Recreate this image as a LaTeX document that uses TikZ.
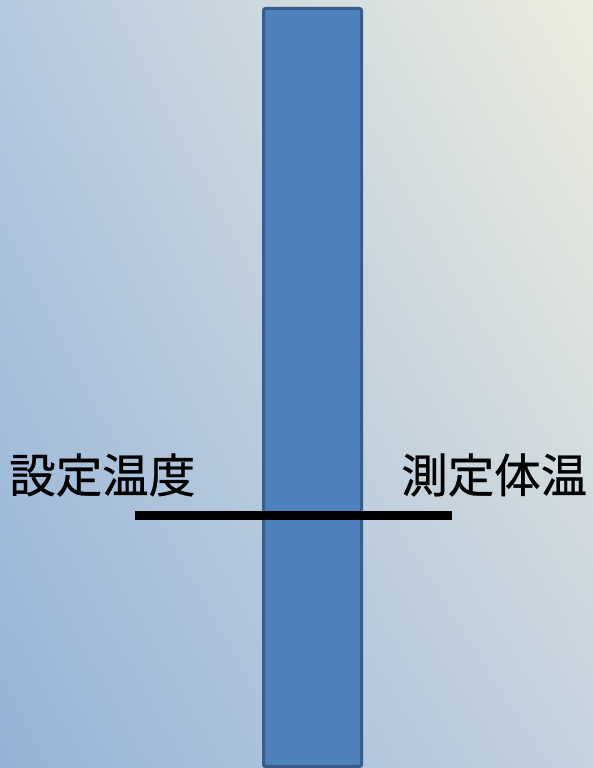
\documentclass[tikz,border=0pt]{standalone}
\usepackage{fontspec}
\usetikzlibrary{shadings}
\newfontfamily\cjk[FakeBold=0.6]{Noto Sans CJK JP}
\definecolor{bgTL}{RGB}{181,201,223}
\definecolor{bgTR}{RGB}{237,237,222}
\definecolor{bgBL}{RGB}{149,179,215}
\definecolor{bgBR}{RGB}{196,210,223}
\definecolor{barfill}{RGB}{79,129,189}
\definecolor{barline}{RGB}{56,93,138}
\tikzset{
  label text/.style={font=\cjk\fontsize{46.5}{56}\selectfont, inner sep=0pt, text=black},
  barbox/.style={fill=barfill, draw=barline, line width=3pt, rounded corners=2pt},
  levelline/.style={line width=9.5pt, black}
}
\begin{document}
\begin{tikzpicture}[x=1pt,y=1pt]
\useasboundingbox (0,0) rectangle (593,768);
\shade[upper left=bgTL, upper right=bgTR, lower left=bgBL, lower right=bgBR] (0,0) rectangle (593,768);
\draw[barbox] (263.5,759.5) rectangle (361.5,1.5);
\coordinate (lstart) at (135,252.5);
\coordinate (lend) at (452,252.5);
\draw[levelline] (lstart) -- (lend);
\node[label text, anchor=west] (set) at (9,293) {設定温度};
\node[label text, anchor=west] (meas) at (401,293) {測定体温};
\end{tikzpicture}
\end{document}
